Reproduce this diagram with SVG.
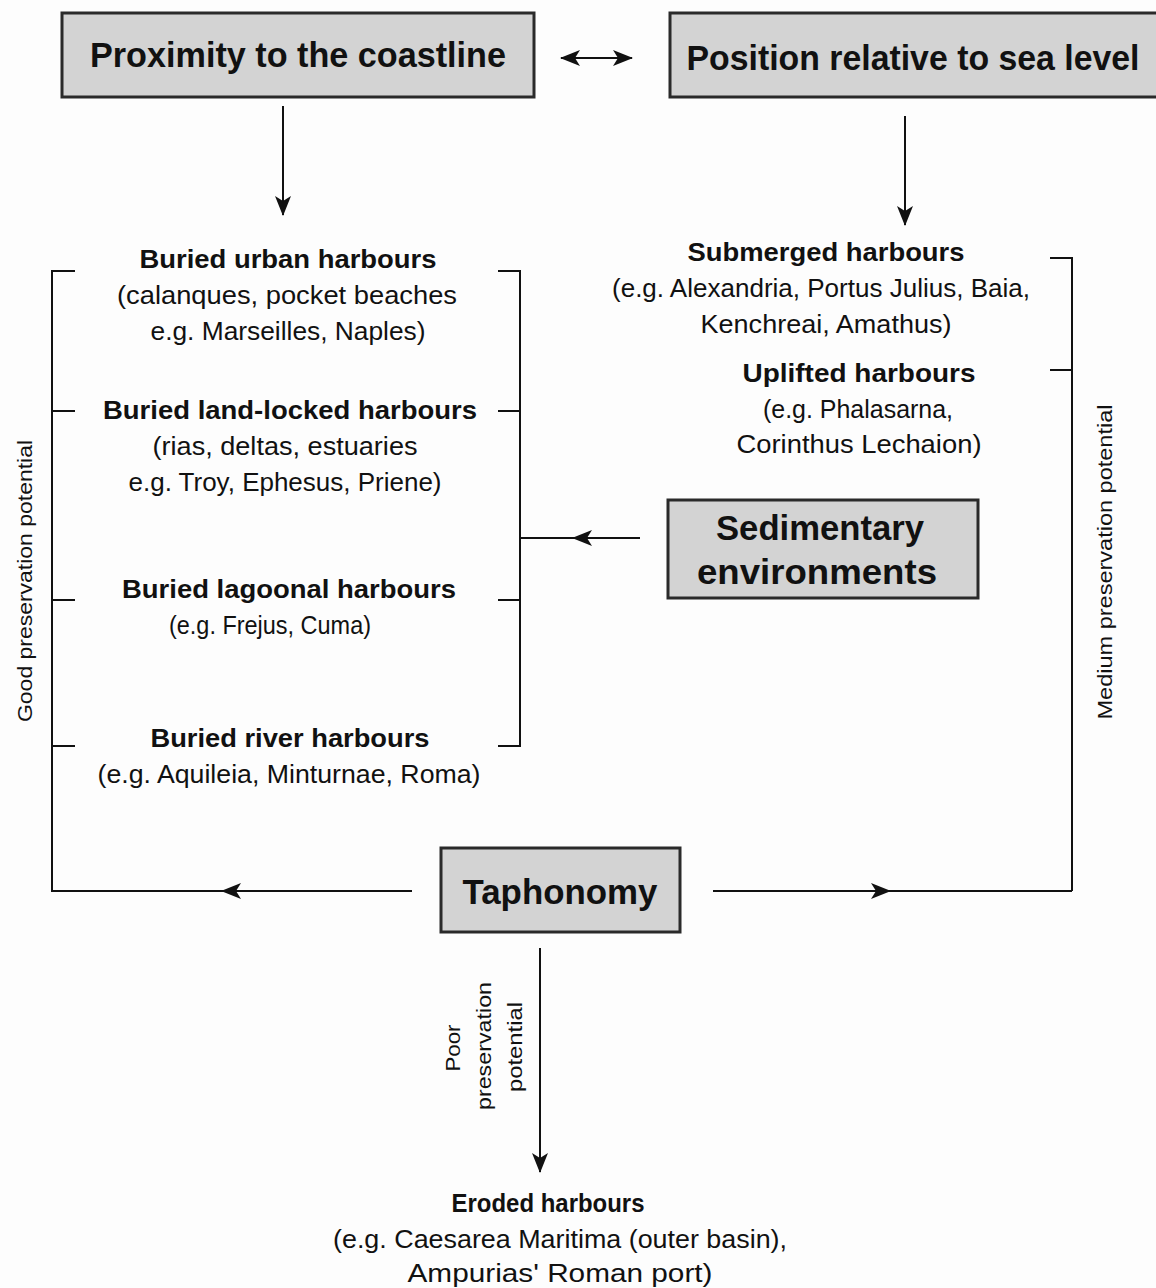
<svg xmlns="http://www.w3.org/2000/svg" width="1156" height="1288" viewBox="0 0 1156 1288">
<style>
.box{fill:#d3d3d3;stroke:#2a2a2a;stroke-width:3}
.ln{stroke:#111;stroke-width:2;fill:none}
.t{font-family:"Liberation Sans",Arial,sans-serif;fill:#111;text-anchor:middle}
.h{font-size:35px;font-weight:bold}
.b{font-size:26px;font-weight:bold}
.n{font-size:25px}
.r{font-size:21px}
</style>
<defs>
<marker id="ah" viewBox="0 0 20 16" refX="19" refY="8" markerWidth="20" markerHeight="16" markerUnits="userSpaceOnUse" orient="auto-start-reverse">
<path d="M0,0 L20,8 L0,16 L5,8 Z" fill="#111"/>
</marker>
</defs>
<rect width="1156" height="1288" fill="#fdfdfd"/>

<g id="connectors">
<line class="ln" x1="561" y1="58" x2="632" y2="58" marker-start="url(#ah)" marker-end="url(#ah)"/>
<line class="ln" x1="283" y1="106" x2="283" y2="215" marker-end="url(#ah)"/>
<line class="ln" x1="905" y1="116" x2="905" y2="225" marker-end="url(#ah)"/>
<polyline class="ln" points="75,271 52,271 52,892"/>
<line class="ln" x1="52" y1="411" x2="75" y2="411"/>
<line class="ln" x1="52" y1="600" x2="75" y2="600"/>
<line class="ln" x1="52" y1="746" x2="75" y2="746"/>
<polyline class="ln" points="498,271 520,271 520,746 498,746"/>
<line class="ln" x1="498" y1="411" x2="520" y2="411"/>
<line class="ln" x1="498" y1="600" x2="520" y2="600"/>
<line class="ln" x1="640" y1="538" x2="573" y2="538" marker-end="url(#ah)"/>
<line class="ln" x1="573" y1="538" x2="520" y2="538"/>
<polyline class="ln" points="1050,258 1072,258 1072,891"/>
<line class="ln" x1="1050" y1="370" x2="1072" y2="370"/>
<line class="ln" x1="412" y1="891" x2="222" y2="891" marker-end="url(#ah)"/>
<line class="ln" x1="222" y1="891" x2="52" y2="891"/>
<line class="ln" x1="713" y1="891" x2="890" y2="891" marker-end="url(#ah)"/>
<line class="ln" x1="890" y1="891" x2="1072" y2="891"/>
<line class="ln" x1="540" y1="948" x2="540" y2="1172" marker-end="url(#ah)"/>
</g>

<g id="proximity">
<rect class="box" x="62" y="13" width="472" height="84"/>
<text class="t h" x="298" y="67" textLength="416" lengthAdjust="spacingAndGlyphs">Proximity to the coastline</text>
</g>
<g id="position">
<rect class="box" x="670" y="13" width="500" height="84"/>
<text class="t h" x="913" y="70" textLength="453" lengthAdjust="spacingAndGlyphs">Position relative to sea level</text>
</g>

<g id="buried-urban">
<text class="t b" x="288" y="268" textLength="297" lengthAdjust="spacingAndGlyphs">Buried urban harbours</text>
<text class="t n" x="287" y="304" textLength="340" lengthAdjust="spacingAndGlyphs">(calanques, pocket beaches</text>
<text class="t n" x="288" y="340" textLength="275" lengthAdjust="spacingAndGlyphs">e.g.  Marseilles, Naples)</text>
</g>
<g id="buried-land-locked">
<text class="t b" x="290" y="419" textLength="374" lengthAdjust="spacingAndGlyphs">Buried land-locked harbours</text>
<text class="t n" x="285" y="455" textLength="265" lengthAdjust="spacingAndGlyphs">(rias, deltas, estuaries</text>
<text class="t n" x="285" y="491" textLength="313" lengthAdjust="spacingAndGlyphs">e.g. Troy, Ephesus, Priene)</text>
</g>
<g id="buried-lagoonal">
<text class="t b" x="289" y="598" textLength="334" lengthAdjust="spacingAndGlyphs">Buried lagoonal harbours</text>
<text class="t n" x="270" y="634" textLength="202" lengthAdjust="spacingAndGlyphs">(e.g. Frejus, Cuma)</text>
</g>
<g id="buried-river">
<text class="t b" x="290" y="747" textLength="279" lengthAdjust="spacingAndGlyphs">Buried river harbours</text>
<text class="t n" x="289" y="783" textLength="383" lengthAdjust="spacingAndGlyphs">(e.g. Aquileia, Minturnae, Roma)</text>
</g>
<g id="submerged">
<text class="t b" x="826" y="261" textLength="277" lengthAdjust="spacingAndGlyphs">Submerged harbours</text>
<text class="t n" x="821" y="297" textLength="418" lengthAdjust="spacingAndGlyphs">(e.g.  Alexandria, Portus Julius, Baia,</text>
<text class="t n" x="826" y="333" textLength="251" lengthAdjust="spacingAndGlyphs">Kenchreai, Amathus)</text>
</g>
<g id="uplifted">
<text class="t b" x="859" y="382" textLength="233" lengthAdjust="spacingAndGlyphs">Uplifted harbours</text>
<text class="t n" x="858" y="418" textLength="190" lengthAdjust="spacingAndGlyphs">(e.g. Phalasarna,</text>
<text class="t n" x="859" y="453" textLength="245" lengthAdjust="spacingAndGlyphs">Corinthus Lechaion)</text>
</g>
<g id="sedimentary">
<rect class="box" x="668" y="500" width="310" height="98"/>
<text class="t h" x="820" y="540" textLength="208" lengthAdjust="spacingAndGlyphs">Sedimentary</text>
<text class="t h" x="817" y="584" textLength="240" lengthAdjust="spacingAndGlyphs">environments</text>
</g>
<g id="taphonomy">
<rect class="box" x="441" y="848" width="239" height="84"/>
<text class="t h" x="560" y="904" textLength="195" lengthAdjust="spacingAndGlyphs">Taphonomy</text>
</g>
<g id="eroded">
<text class="t b" x="548" y="1212" textLength="193" lengthAdjust="spacingAndGlyphs">Eroded harbours</text>
<text class="t n" x="560" y="1248" textLength="454" lengthAdjust="spacingAndGlyphs">(e.g. Caesarea Maritima (outer basin),</text>
<text class="t n" x="560" y="1282" textLength="305" lengthAdjust="spacingAndGlyphs">Ampurias' Roman port)</text>
</g>
<g id="labels">
<text class="t r" transform="translate(32,581) rotate(-90)" textLength="282" lengthAdjust="spacingAndGlyphs">Good preservation potential</text>
<text class="t r" transform="translate(1112,562) rotate(-90)" textLength="315" lengthAdjust="spacingAndGlyphs">Medium preservation potential</text>
<text class="t r" transform="translate(460,1048) rotate(-90)" textLength="47" lengthAdjust="spacingAndGlyphs">Poor</text>
<text class="t r" transform="translate(491,1046) rotate(-90)" textLength="128" lengthAdjust="spacingAndGlyphs">preservation</text>
<text class="t r" transform="translate(522,1047) rotate(-90)" textLength="90" lengthAdjust="spacingAndGlyphs">potential</text>
</g>
</svg>
